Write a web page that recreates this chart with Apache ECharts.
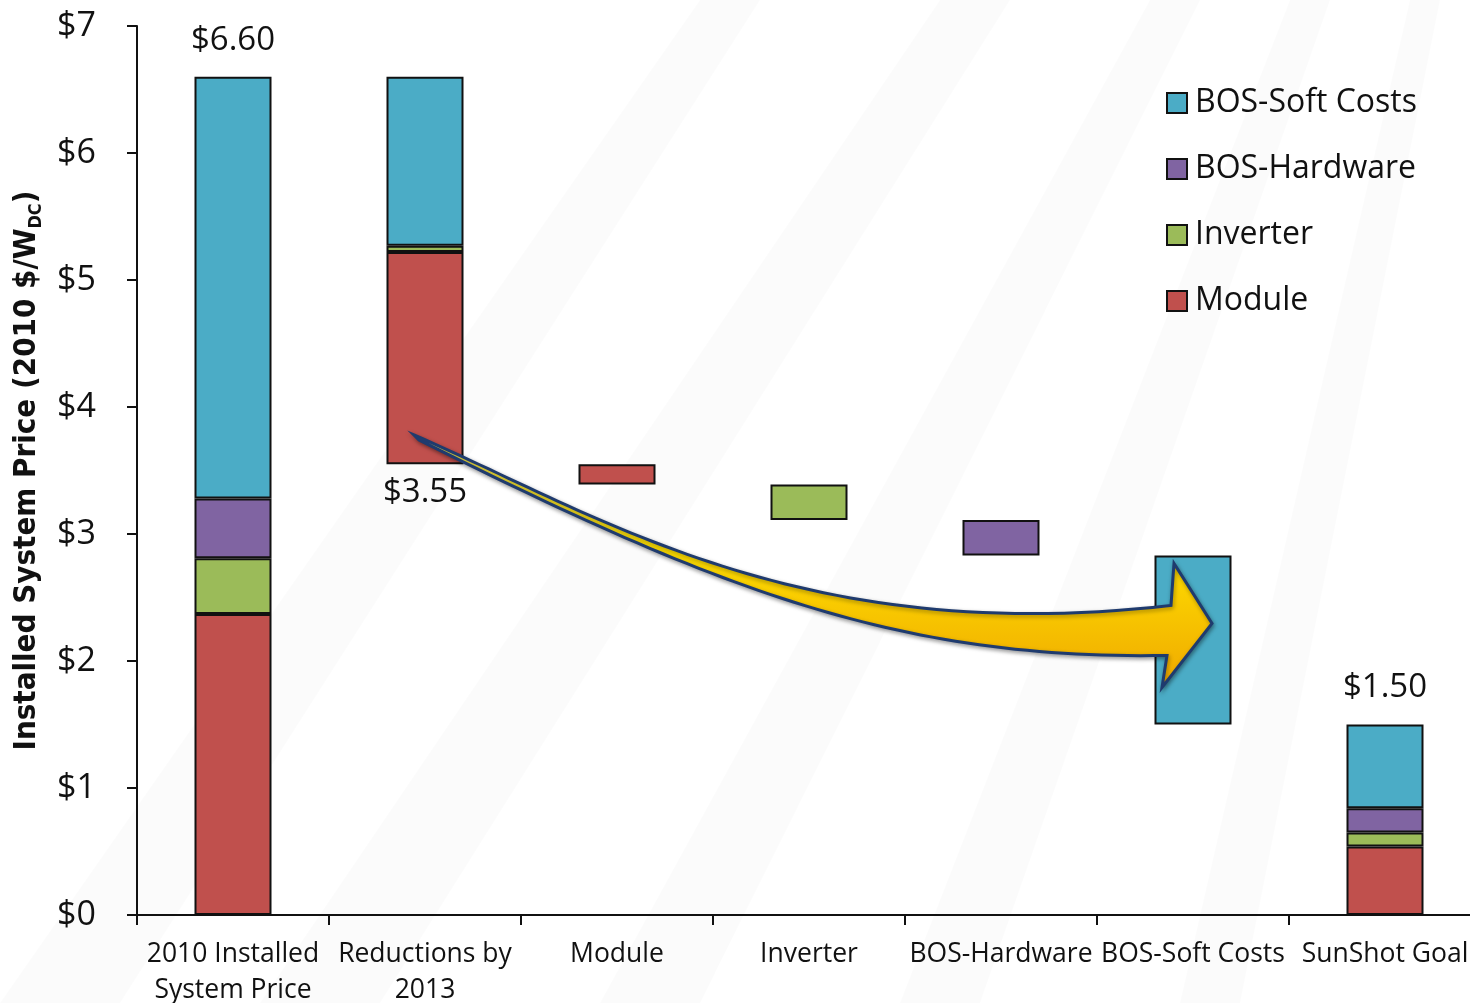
<!DOCTYPE html>
<html>
<head>
<meta charset="utf-8">
<script src="https://cdn.jsdelivr.net/npm/echarts@6/dist/echarts.min.js"></script>
<style>
  html, body { margin: 0; padding: 0; background: #ffffff; }
  #chart { width: 1470px; height: 1003px; }
</style>
</head>
<body>
<div id="chart"></div>
<script>
// ---- data ----
var categories = ['2010 Installed\nSystem Price', 'Reductions by\n2013', 'Module', 'Inverter', 'BOS-Hardware', 'BOS-Soft Costs', 'SunShot Goal'];
var baseValues     = [0, 3.55, 3.39, 3.11, 2.83, 1.50, 0];
var moduleValues   = [2.37, 1.67, 0.16, '-', '-', '-', 0.54];
var inverterValues = [0.44, 0.05, '-', 0.28, '-', '-', 0.11];
var hardwareValues = [0.47, '-', '-', '-', 0.28, '-', 0.19];
var softValues     = [3.32, 1.33, '-', '-', '-', 1.33, 0.66];
var topLabels      = ['$6.60', '', '', '', '', '', '$1.50'];
var bottomLabels   = ['', '$3.55', '', '', '', '', ''];
var yTicks = [0, 1, 2, 3, 4, 5, 6, 7];

var FONT = "'Open Sans', 'Noto Sans', sans-serif";
var border = { borderColor: '#111', borderWidth: 2 };

function withLabels(values, labels, pos, dist) {
  return values.map(function (v, i) {
    if (!labels[i]) return v;
    return {
      value: v,
      label: { show: true, position: pos, distance: dist, formatter: labels[i],
               fontFamily: FONT, fontSize: 33, color: '#111' }
    };
  });
}

var chart = echarts.init(document.getElementById('chart'), null, { renderer: 'canvas' });

var bgBands = [];
var bandDefs = [
  [[0, 1003], [120, 1003], [760, 0], [700, 0]],
  [[260, 1003], [380, 1003], [1010, 0], [940, 0]],
  [[600, 1003], [700, 1003], [1200, 0], [1150, 0]],
  [[900, 1003], [980, 1003], [1330, 0], [1290, 0]],
  [[1180, 1003], [1240, 1003], [1440, 0], [1410, 0]]
];
bandDefs.forEach(function (pts) {
  bgBands.push({ type: 'polygon', z: -10, silent: true, shape: { points: pts },
                 style: { fill: 'rgba(0,0,0,0.014)' } });
});

chart.setOption({
  animation: false,
  backgroundColor: '#ffffff',
  graphic: bgBands,
  grid: { left: 137, top: 26, width: 1344, height: 889, containLabel: false, outerBoundsMode: 'none' },
  legend: {
    data: ['BOS-Soft Costs', 'BOS-Hardware', 'Inverter', 'Module'],
    orient: 'vertical',
    left: 1166,
    top: 85,
    padding: 0,
    itemWidth: 20,
    itemHeight: 20,
    itemGap: 30,
    icon: 'rect',
    textStyle: { fontFamily: FONT, fontSize: 32, color: '#111', lineHeight: 36, padding: [0, 0, 0, 3] },
    selectedMode: false
  },
  xAxis: {
    type: 'category',
    data: categories,
    axisLine: { lineStyle: { color: '#111', width: 2 } },
    axisTick: { show: true, length: 10, lineStyle: { color: '#111', width: 2 } },
    axisLabel: { fontFamily: FONT, fontSize: 26.5, color: '#111', margin: 21, lineHeight: 36, interval: 0 }
  },
  yAxis: {
    type: 'value',
    min: 0, max: 7, interval: 1,
    name: '{n|Installed System Price (2010 $/W}{s|DC}{n|)}',
    nameLocation: 'middle',
    nameGap: 92,
    nameRotate: 90,
    nameTextStyle: {
      rich: {
        n: { fontFamily: "'Liberation Sans Narrow', 'DejaVu Sans Condensed', sans-serif", fontWeight: 'bold', fontSize: 31, color: '#111' },
        s: { fontFamily: "'Liberation Sans Narrow', 'DejaVu Sans Condensed', sans-serif", fontWeight: 'bold', fontSize: 18, color: '#111', verticalAlign: 'bottom', padding: [18, 0, 0, 0] }
      }
    },
    axisLine: { show: true, lineStyle: { color: '#111', width: 2 } },
    axisTick: { show: true, length: 10, lineStyle: { color: '#111', width: 2 } },
    splitLine: { show: false },
    axisLabel: {
      fontFamily: FONT, fontSize: 34, color: '#111', margin: 41,
      formatter: function (v) { return yTicks.indexOf(v) >= 0 ? '$' + v : ''; }
    }
  },
  series: [
    { name: 'base', type: 'bar', stack: 'total', barWidth: 77, silent: true,
      itemStyle: { color: 'rgba(0,0,0,0)', borderWidth: 0 }, data: baseValues },
    { name: 'Module', type: 'bar', stack: 'total', barWidth: 77,
      itemStyle: Object.assign({ color: '#C0504D' }, border),
      data: withLabels(moduleValues, bottomLabels, 'bottom', 12) },
    { name: 'Inverter', type: 'bar', stack: 'total', barWidth: 77,
      itemStyle: Object.assign({ color: '#9BBB59' }, border), data: inverterValues },
    { name: 'BOS-Hardware', type: 'bar', stack: 'total', barWidth: 77,
      itemStyle: Object.assign({ color: '#8064A2' }, border), data: hardwareValues },
    { name: 'BOS-Soft Costs', type: 'bar', stack: 'total', barWidth: 77,
      itemStyle: Object.assign({ color: '#4BACC6' }, border),
      data: withLabels(softValues, topLabels, 'top', 20) }
  ]
});

// ---- decorative arrow anchored to the data coordinates ----
var s = chart.convertToPixel({ xAxisIndex: 0, yAxisIndex: 0 }, [categories[1], 3.78]);
var e = chart.convertToPixel({ xAxisIndex: 0, yAxisIndex: 0 }, [categories[5], 2.28]);
var ox = s[0] - 11, oy = s[1];
var tx = e[0] + 19, ty = e[1];
function cubic(p0, p1, p2, p3, n) {
  var out = [];
  for (var i = 0; i <= n; i++) {
    var t = i / n, u = 1 - t;
    out.push([
      u*u*u*p0[0] + 3*u*u*t*p1[0] + 3*u*t*t*p2[0] + t*t*t*p3[0],
      u*u*u*p0[1] + 3*u*u*t*p1[1] + 3*u*t*t*p2[1] + t*t*t*p3[1]
    ]);
  }
  return out;
}
var upper = cubic([ox, oy], [ox + 185, oy + 80], [ox + 385, oy + 213], [tx - 41, ty - 20], 60);
var head = [[tx - 38, ty - 62], [tx, ty - 2], [tx - 50, ty + 62], [tx - 45, ty + 30]];
var lower = cubic([tx - 45, ty + 30], [ox + 485, oy + 225], [ox + 305, oy + 155], [ox + 5, oy + 5], 60);
var arrowPts = upper.concat(head).concat(lower.slice(1));
chart.setOption({
  graphic: bgBands.concat([{
    type: 'polygon', z: 100, silent: true,
    shape: { points: arrowPts },
    style: {
      fill: {
        type: 'linear', x: 0, y: 0, x2: 0, y2: 1,
        colorStops: [
          { offset: 0, color: '#FFF45A' },
          { offset: 0.45, color: '#FFE000' },
          { offset: 1, color: '#EFA800' }
        ]
      },
      stroke: '#1F3B6E', lineWidth: 3, lineJoin: 'miter',
      shadowBlur: 4, shadowColor: 'rgba(0,0,0,0.35)', shadowOffsetX: 1, shadowOffsetY: 2
    }
  }])
});
</script>
</body>
</html>
